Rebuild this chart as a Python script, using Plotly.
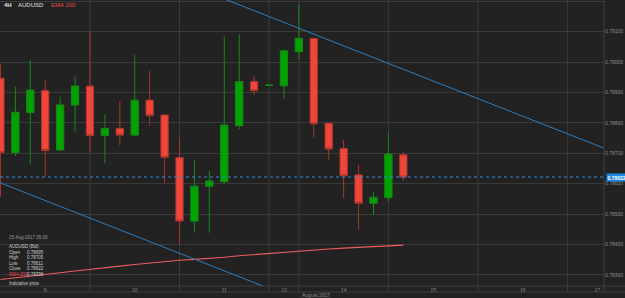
import plotly.graph_objects as go

# ---------------- data ----------------
times = [
    "2017-08-09 01:00", "2017-08-09 05:00", "2017-08-09 09:00", "2017-08-09 13:00", "2017-08-09 17:00", "2017-08-09 21:00",
    "2017-08-10 01:00", "2017-08-10 05:00", "2017-08-10 09:00", "2017-08-10 13:00", "2017-08-10 17:00", "2017-08-10 21:00",
    "2017-08-11 01:00", "2017-08-11 05:00", "2017-08-11 09:00", "2017-08-11 13:00", "2017-08-11 17:00", "2017-08-11 21:00",
    "2017-08-13 17:00", "2017-08-13 21:00",
    "2017-08-14 01:00", "2017-08-14 05:00", "2017-08-14 09:00", "2017-08-14 13:00", "2017-08-14 17:00", "2017-08-14 21:00",
    "2017-08-15 01:00", "2017-08-15 05:00",
]
open_ = [0.78947, 0.78702, 0.78834, 0.78906, 0.78711, 0.78859, 0.78921, 0.78758, 0.78782, 0.78760,
         0.78875, 0.78826, 0.78686, 0.78477, 0.78592, 0.78607, 0.78791, 0.78936, 0.78924, 0.78922,
         0.79034, 0.79078, 0.78799, 0.78716, 0.78629, 0.78536, 0.78554, 0.78695]
high = [0.78994, 0.78919, 0.79007, 0.78941, 0.78886, 0.78952, 0.79100, 0.78829, 0.78872, 0.79023,
        0.78971, 0.78827, 0.78753, 0.78678, 0.78642, 0.79084, 0.79092, 0.78954, 0.78924, 0.79042,
        0.79191, 0.79079, 0.78801, 0.78744, 0.78662, 0.78573, 0.78768, 0.78705]
low = [0.78557, 0.78691, 0.78667, 0.78625, 0.78709, 0.78771, 0.78705, 0.78667, 0.78727, 0.78757,
       0.78790, 0.78601, 0.78402, 0.78439, 0.78439, 0.78601, 0.78779, 0.78892, 0.78924, 0.78878,
       0.79009, 0.78753, 0.78678, 0.78552, 0.78448, 0.78497, 0.78541, 0.78611]
close = [0.78702, 0.78835, 0.78908, 0.78709, 0.78859, 0.78921, 0.78758, 0.78782, 0.78760, 0.78875,
         0.78824, 0.78686, 0.78477, 0.78592, 0.78609, 0.78793, 0.78936, 0.78906, 0.78924, 0.79037,
         0.79078, 0.78797, 0.78714, 0.78626, 0.78536, 0.78555, 0.78698, 0.78622]
ema200 = [0.78285, 0.78290, 0.78296, 0.78302, 0.78307, 0.78313, 0.78319, 0.78324, 0.78329, 0.78334,
          0.78339, 0.78344, 0.78348, 0.78351, 0.78354, 0.78358, 0.78363, 0.78367, 0.78371, 0.78375,
          0.78379, 0.78382, 0.78385, 0.78388, 0.78391, 0.78393, 0.78396, 0.78398]

# trend lines: (candle index, price) anchors
upper_trend_idx = [15, 41]
upper_trend_px = [0.792078, 0.787063]
lower_trend_idx = [-1, 19]
lower_trend_px = [0.786219, 0.782361]

current_price = 0.78622

day_labels = ["9", "10", "11", "13", "14", "15", "16", "17"]
day_label_idx = [3, 9, 15, 19, 23, 29, 35, 40]
day_start_idx = [6, 12, 18, 20, 26, 32, 38]
month_label = "August 2017"

info_lines = [("Open", "0.78695"), ("High", "0.78705"), ("Low", "0.78611"), ("Close", "0.78622")]
info_ema = ("EMA 200", "0.78398")

# ---------------- figure ----------------
BG = "#222222"
GRID = "#3a3a3a"
TXT = "#8f8f8f"
FONT = "Liberation Sans, Arial, sans-serif"
W, H = 625, 298
L, R, T, B = 0, 21, 0, 12
PW, PH = W - L - R, H - T - B

xi = list(range(len(times)))

fig = go.Figure()
fig.add_trace(go.Candlestick(
    x=xi, open=open_, high=high, low=low, close=close,
    increasing=dict(fillcolor="#00a300", line=dict(color="#178a17", width=1)),
    decreasing=dict(fillcolor="#f0453a", line=dict(color="#a8372f", width=1)),
    whiskerwidth=0, showlegend=False, hoverinfo="skip",
))
fig.add_trace(go.Scatter(x=xi, y=ema200, mode="lines",
                         line=dict(color="#ee5c5c", width=1.1), showlegend=False, hoverinfo="skip"))
fig.add_trace(go.Scatter(x=upper_trend_idx, y=upper_trend_px, mode="lines",
                         line=dict(color="#2f7fbf", width=1), showlegend=False, hoverinfo="skip"))
fig.add_trace(go.Scatter(x=lower_trend_idx, y=lower_trend_px, mode="lines",
                         line=dict(color="#2f7fbf", width=1), showlegend=False, hoverinfo="skip"))

x_range = [-0.03, 40.45]
fig.add_trace(go.Scatter(x=x_range, y=[current_price, current_price], mode="lines",
                         line=dict(color="#2e8be0", width=1, dash="3px,3px"),
                         showlegend=False, hoverinfo="skip"))

shapes = []
for d in day_start_idx:
    shapes.append(dict(type="line", xref="x", yref="paper", x0=d, x1=d, y0=-6 / PH, y1=1,
                       line=dict(color=GRID, width=1), layer="below"))
# axis frame lines
shapes.append(dict(type="line", xref="paper", yref="paper", x0=0, x1=W / PW, y0=0, y1=0,
                   line=dict(color="#3f3f3f", width=1)))
shapes.append(dict(type="line", xref="paper", yref="paper", x0=0, x1=W / PW, y0=-6 / PH, y1=-6 / PH,
                   line=dict(color="#3f3f3f", width=1)))
shapes.append(dict(type="line", xref="paper", yref="paper", x0=1, x1=1, y0=-6 / PH, y1=1,
                   line=dict(color="#3f3f3f", width=1)))

INFO = dict(color="#d0d0d0", size=4.5, family=FONT)
ann = []
# header
ann.append(dict(text="<b>4H</b>", x=2 / PW, y=1 - 5 / PH))
ann.append(dict(text="AUDUSD", x=16 / PW, y=1 - 5 / PH))
ann.append(dict(text="EMA 200", x=49 / PW, y=1 - 5 / PH, font=dict(color="#e84a4a", size=6, family=FONT)))
# info box
ann.append(dict(text="15-Aug-2017 05:00", x=7 / PW, y=(PH - 237) / PH, font=dict(color="#9a9a9a", size=4.5, family=FONT)))
ann.append(dict(text="AUDUSD (Bid)", x=7 / PW, y=(PH - 246) / PH, font=INFO))
ys = [252, 257.5, 263, 268.5]
for (lab, val), yy in zip(info_lines, ys):
    ann.append(dict(text=lab, x=7 / PW, y=(PH - yy) / PH, font=INFO))
    ann.append(dict(text=val, x=25 / PW, y=(PH - yy) / PH, font=INFO))
ann.append(dict(text=info_ema[0], x=7 / PW, y=(PH - 274) / PH, font=dict(color="#e84a4a", size=4.5, family=FONT)))
ann.append(dict(text=info_ema[1], x=25 / PW, y=(PH - 274) / PH, font=INFO))
ann.append(dict(text="Indicative price", x=7 / PW, y=(PH - 283) / PH, font=INFO))
# month label
ann.append(dict(text=month_label, x=300 / PW, y=-9 / PH, font=dict(color=TXT, size=5, family=FONT)))

for a in ann:
    a.setdefault("font", dict(color="#e0e0e0", size=6, family=FONT))
    a.update(xref="paper", yref="paper", xanchor="left", yanchor="middle", showarrow=False)

# current price box
ann.append(dict(text="<b>%.5f</b>" % current_price, xref="paper", yref="y", x=1 + 2 / PW, y=current_price,
                xanchor="left", yanchor="middle", showarrow=False, bgcolor="#1e88e5",
                font=dict(color="white", size=5, family=FONT), borderpad=0.5))

fig.update_layout(
    width=W, height=H,
    margin=dict(l=L, r=R, t=T, b=B, pad=0),
    paper_bgcolor=BG, plot_bgcolor=BG,
    shapes=shapes, annotations=ann,
    hovermode=False, dragmode=False,
    xaxis=dict(range=x_range, showgrid=False, zeroline=False, showline=False,
               tickmode="array", tickvals=day_label_idx, ticktext=day_labels,
               ticks="", tickfont=dict(color=TXT, size=5, family=FONT),
               rangeslider=dict(visible=False), automargin=False, fixedrange=True),
    yaxis=dict(range=[0.782635, 0.792043], side="right", dtick=0.001, tick0=0.783,
               tickformat=".5f", showgrid=True, gridcolor=GRID, gridwidth=1,
               zeroline=False, showline=False, ticks="",
               tickfont=dict(color=TXT, size=5, family=FONT), automargin=False, fixedrange=True),
)

fig.write_html("out.html", config=dict(displayModeBar=False, staticPlot=True))
